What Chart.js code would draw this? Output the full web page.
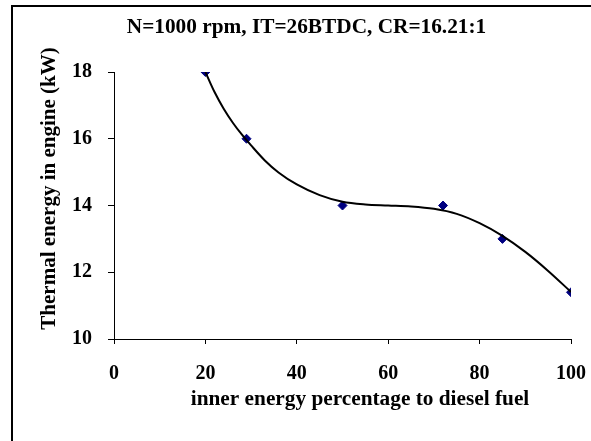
<!DOCTYPE html>
<html>
<head>
<meta charset="utf-8">
<title>Thermal energy in engine</title>
<script src="https://cdn.jsdelivr.net/npm/chart.js@4.4.1/dist/chart.umd.min.js"></script>
<style>
  body { margin: 0; background: #fff; }
  #wrap { position: relative; width: 591px; height: 441px; overflow: hidden; }
  #energyChart { position: absolute; left: 0; top: 0; }
  #frame {
    position: absolute; left: 11px; top: 5px; width: 700px; height: 600px;
    border-left: 2px solid #000; border-top: 2px solid #000;
  }
</style>
</head>
<body>
<div id="wrap">
  <canvas id="energyChart" width="591" height="441"></canvas>
  <div id="frame"></div>
</div>
<script>
// measured points
const blendPercent = [20, 29, 50, 72, 85, 100];
const thermalEnergy = [18, 16, 14, 14, 13, 11.4];

// trend curve, read along its length
const trendX = [20, 22, 24, 26, 28, 30, 33, 36, 40, 45, 50, 55, 60, 65, 70, 75, 80, 85, 90, 95, 100];
const trendY = [18.0, 17.4, 16.9, 16.48, 16.12, 15.8, 15.35, 14.99, 14.63, 14.31, 14.11, 14.03, 14.0, 13.97, 13.9, 13.75, 13.47, 13.09, 12.61, 12.04, 11.41];

// axis ranges
const xTicks = [0, 20, 40, 60, 80, 100];
const yTicks = [10, 12, 14, 16, 18];

const chartTitle = 'N=1000 rpm, IT=26BTDC, CR=16.21:1';
const xTitle = 'inner energy percentage to diesel fuel';
const yTitle = 'Thermal energy in engine (kW)';

const FONT = '"Liberation Serif", "Times New Roman", serif';

// title and axis titles sit off-centre, so draw them by hand
const textPlugin = {
  id: 'chartTexts',
  afterDraw(chart) {
    const ctx = chart.ctx;
    ctx.save();
    ctx.fillStyle = '#000';
    ctx.font = 'bold 21.3px ' + FONT;
    ctx.textAlign = 'center';
    ctx.textBaseline = 'alphabetic';
    ctx.fillText(chartTitle, 306.5, 33);
    ctx.fillText(xTitle, 360, 405);
    ctx.font = 'bold 21px ' + FONT;
    ctx.translate(55, 188.5);
    ctx.rotate(-Math.PI / 2);
    ctx.fillText(yTitle, 0, 0);
    ctx.restore();
  }
};

const tickFont = { family: FONT, size: 20, weight: 'bold' };

new Chart(document.getElementById('energyChart'), {
  type: 'scatter',
  data: {
    datasets: [
      {
        label: 'Trend',
        data: trendX.map((x, i) => ({ x: x, y: trendY[i] })),
        showLine: true,
        borderColor: '#000',
        borderWidth: 2,
        pointRadius: 0,
        tension: 0.4,
        cubicInterpolationMode: 'monotone',
        fill: false
      },
      {
        label: 'Thermal energy',
        data: blendPercent.map((x, i) => ({ x: x, y: thermalEnergy[i] })),
        showLine: false,
        pointStyle: 'rectRot',
        pointRadius: 4.5,
        backgroundColor: '#000080',
        borderColor: '#000080',
        borderWidth: 1
      }
    ]
  },
  options: {
    responsive: false,
    animation: false,
    layout: { padding: { top: 72, right: 20, bottom: 0, left: 0 } },
    plugins: {
      legend: { display: false },
      tooltip: { enabled: false },
      title: { display: false }
    },
    scales: {
      x: {
        type: 'linear',
        min: xTicks[0],
        max: xTicks[xTicks.length - 1],
        // fixed box; the edge labels fit inside the layout padding
        afterFit: (s) => { s.height = 102; s.paddingLeft = 0; s.paddingRight = 0; },
        ticks: { stepSize: 20, color: '#000', font: tickFont, padding: 18 },
        grid: { drawOnChartArea: false, tickLength: 5, color: '#000' },
        border: { color: '#000', width: 1 }
      },
      y: {
        type: 'linear',
        min: yTicks[0],
        max: yTicks[yTicks.length - 1],
        afterFit: (s) => { s.width = 114; },
        ticks: { stepSize: 2, color: '#000', font: tickFont, padding: 16 },
        grid: { drawOnChartArea: false, tickLength: 6, color: '#000' },
        border: { color: '#000', width: 1 }
      }
    }
  },
  plugins: [textPlugin]
});
</script>
</body>
</html>
